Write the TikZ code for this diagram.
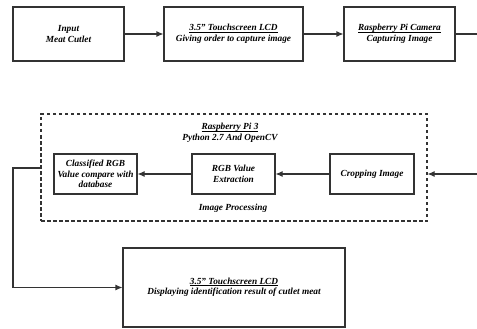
\documentclass[tikz,border=0pt]{standalone}
\usepackage{fontspec}
\setmainfont{Liberation Serif}
\usetikzlibrary{arrows.meta,calc,positioning}
\newcommand\ulabel[1]{\setbox0\hbox{#1}\rlap{\rule[-1.5pt]{\wd0}{0.5pt}}\box0}

\begin{document}
\begin{tikzpicture}[
    x=1pt, y=-1pt,
    every node/.style={font=\fontsize{9.3}{10.5}\selectfont\bfseries\itshape, align=center},
    stagebox/.style={draw=black!80, line width=1.05pt, inner sep=0pt},
    link/.style={draw=black!80, line width=1.05pt},
    >={Latex[length=7pt,width=6pt]}
]
\useasboundingbox (0,0) rectangle (477,329);

% Top row
\node[stagebox, minimum width=111, minimum height=54] (input) at (68.5,34)
    {Input\\Meat Cutlet};
\node[stagebox, minimum width=139, minimum height=54] (lcdin) at (233.5,34)
    {\ulabel{3.5'' Touchscreen LCD}\\Giving order to capture image};
\node[stagebox, minimum width=111, minimum height=54] (camera) at (399.5,34)
    {\ulabel{Raspberry Pi Camera}\\Capturing Image};

\draw[link,->] (input) -- (lcdin);
\draw[link,->] (lcdin) -- (camera);
\coordinate (outtop) at (477,34);
\draw[link] (camera) -- (outtop);

% Image processing on the Raspberry Pi
\node[draw=black!80, line width=1.05pt, dash pattern=on 3.5pt off 2.5pt,
      minimum width=386, minimum height=107] (proc) at (234,167.5) {};
\node (pititle) at (230,133)
    {\ulabel{Raspberry Pi 3}\\Python 2.7 And OpenCV};
\node (proctitle) at (233,208) {Image Processing};

\node[stagebox, minimum width=83, minimum height=40] (classify) at (95.5,174)
    {Classified RGB\\Value compare with\\database};
\node[stagebox, minimum width=83, minimum height=40] (extract) at (233.5,174)
    {RGB Value\\Extraction};
\node[stagebox, minimum width=84, minimum height=40] (crop) at (372,174)
    {Cropping Image};

\coordinate (inright) at (477,174);
\draw[link,->] (inright) -- (inright -| proc.east);
\draw[link,->] (crop) -- (extract);
\draw[link,->] (extract) -- (classify);

% Result display
\node[stagebox, minimum width=222, minimum height=79] (lcdout) at (234,287.5)
    {\ulabel{3.5'' Touchscreen LCD}\\Displaying identification result of cutlet meat};

\coordinate (leftturn) at (13,168);
\draw[link,->] (proc.west |- leftturn) -- (leftturn) |- (lcdout.west);

\end{tikzpicture}
\end{document}
